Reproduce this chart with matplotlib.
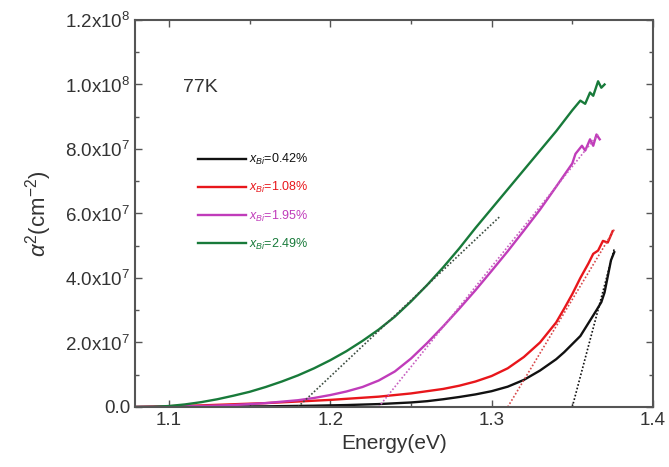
import matplotlib
matplotlib.use("Agg")
import matplotlib.pyplot as plt
from matplotlib.ticker import MultipleLocator, FixedLocator, FixedFormatter

plt.rcParams['font.family'] = ['Liberation Sans', 'DejaVu Sans']
plt.rcParams['mathtext.fontset'] = 'custom'
plt.rcParams['mathtext.rm'] = 'Liberation Sans'
plt.rcParams['mathtext.it'] = 'Liberation Sans:italic'

# absorption squared, in units of 1e7 cm^-2
e_042 = [1.08, 1.12, 1.16, 1.19, 1.21, 1.23, 1.25, 1.26, 1.27, 1.28, 1.29, 1.30,
         1.31, 1.32, 1.33, 1.34, 1.345, 1.35, 1.355, 1.36, 1.365, 1.368, 1.370,
         1.372, 1.374, 1.376]
a_042 = [0.0, 0.01, 0.02, 0.04, 0.06, 0.09, 0.14, 0.18, 0.24, 0.31, 0.39, 0.49,
         0.63, 0.84, 1.13, 1.48, 1.7, 1.95, 2.2, 2.6, 3.0, 3.25, 3.55,
         4.05, 4.55, 4.8]

e_108 = [1.08, 1.12, 1.16, 1.20, 1.23, 1.25, 1.27, 1.28, 1.29, 1.30, 1.31, 1.32,
         1.33, 1.34, 1.345, 1.35, 1.355, 1.36, 1.363, 1.366, 1.369, 1.372, 1.375]
a_108 = [0.0, 0.05, 0.12, 0.22, 0.32, 0.42, 0.56, 0.66, 0.79, 0.96, 1.2, 1.55,
         2.0, 2.62, 3.05, 3.5, 4.0, 4.45, 4.75, 4.85, 5.15, 5.1, 5.45]

e_195 = [1.08, 1.10, 1.12, 1.14, 1.16, 1.18, 1.19, 1.20, 1.21, 1.22, 1.23, 1.24,
         1.25, 1.26, 1.27, 1.28, 1.29, 1.30, 1.31, 1.32, 1.33, 1.34, 1.35,
         1.352, 1.356, 1.358, 1.361, 1.363, 1.365, 1.367]
a_195 = [0.0, 0.01, 0.03, 0.06, 0.12, 0.21, 0.28, 0.37, 0.48, 0.62, 0.82, 1.1,
         1.5, 1.98, 2.5, 3.05, 3.62, 4.22, 4.83, 5.47, 6.12, 6.83, 7.55,
         7.85, 8.1, 7.95, 8.3, 8.1, 8.45, 8.3]

e_249 = [1.08, 1.09, 1.10, 1.11, 1.12, 1.13, 1.14, 1.15, 1.16, 1.17, 1.18, 1.19,
         1.20, 1.21, 1.22, 1.23, 1.24, 1.25, 1.26, 1.27, 1.28, 1.29, 1.30,
         1.31, 1.32, 1.33, 1.34, 1.35, 1.355, 1.358, 1.361, 1.363, 1.366, 1.368,
         1.370]
a_249 = [0.0, 0.005, 0.03, 0.08, 0.15, 0.24, 0.35, 0.47, 0.62, 0.79, 0.98, 1.2,
         1.45, 1.73, 2.05, 2.4, 2.8, 3.27, 3.78, 4.33, 4.92, 5.55, 6.15,
         6.75, 7.35, 7.95, 8.55, 9.2, 9.5, 9.4, 9.75, 9.65, 10.1, 9.9, 10.0]

# linear extrapolations to the band gap
fit_e = [[1.350, 1.376], [1.310, 1.376], [1.230, 1.366], [1.180, 1.305]]
fit_a = [[0.0, 4.9], [0.0, 5.5], [0.0, 8.45], [0.0, 5.9]]

labels = [r"$x_{Bi}$=0.42%", r"$x_{Bi}$=1.08%", r"$x_{Bi}$=1.95%", r"$x_{Bi}$=2.49%"]
colors = ['#111111', '#e8161b', '#c03cba', '#187a3a']
fit_colors = ['#111111', '#d8484a', '#c860c0', '#3c4c40']

y_ticks = [0, 2, 4, 6, 8, 10, 12]
y_ticklabels = ["0.0", r"2.0x10$^{7}$", r"4.0x10$^{7}$", r"6.0x10$^{7}$",
                r"8.0x10$^{7}$", r"1.0x10$^{8}$", r"1.2x10$^{8}$"]

fig = plt.figure(figsize=(6.69, 4.67), dpi=100)
ax = fig.add_axes([0.2018, 0.1285, 0.7742, 0.8287])

series = [(e_042, a_042), (e_108, a_108), (e_195, a_195), (e_249, a_249)]
for (e, a), lab, c in zip(series, labels, colors):
    ax.plot(e, a, color=c, lw=1.7, label=lab)
for fe, fa, c in zip(fit_e, fit_a, fit_colors):
    ax.plot(fe, fa, color=c, lw=1.2, ls=(0, (1, 1.2)))

ax.set_xlim(1.079, 1.4)
ax.set_ylim(0, 12)
ax.xaxis.set_major_locator(FixedLocator([1.1, 1.2, 1.3, 1.4]))
ax.xaxis.set_major_formatter(FixedFormatter(["1.1", "1.2", "1.3", "1.4"]))
ax.xaxis.set_minor_locator(MultipleLocator(0.05))
ax.yaxis.set_major_locator(FixedLocator(y_ticks))
ax.yaxis.set_major_formatter(FixedFormatter(y_ticklabels))
ax.yaxis.set_minor_locator(MultipleLocator(1))

txt = '#333333'
ax.tick_params(which='both', direction='in', top=True, right=True,
               colors='#555555', labelcolor=txt, labelsize=13.5, width=1.0)
ax.tick_params(which='major', length=5)
ax.tick_params(which='minor', length=3)
for s in ax.spines.values():
    s.set_color('#555555')
    s.set_linewidth(1.5)

ax.set_xlabel("Energy(eV)", fontsize=15, color=txt, labelpad=4)
ax.set_ylabel(r"$\alpha^{2}$(cm$^{-2}$)", fontsize=16, color=txt, labelpad=8)

ax.text(0.093, 0.825, "77K", transform=ax.transAxes, fontsize=14,
        color=txt, va='center', ha='left')

leg = ax.legend(loc='upper left', bbox_to_anchor=(0.11, 0.675), frameon=False,
                fontsize=9, handlelength=3.8, handletextpad=0.3,
                labelspacing=1.05, borderpad=0, labelcolor='linecolor')

fig.savefig("out.png", dpi=100)
